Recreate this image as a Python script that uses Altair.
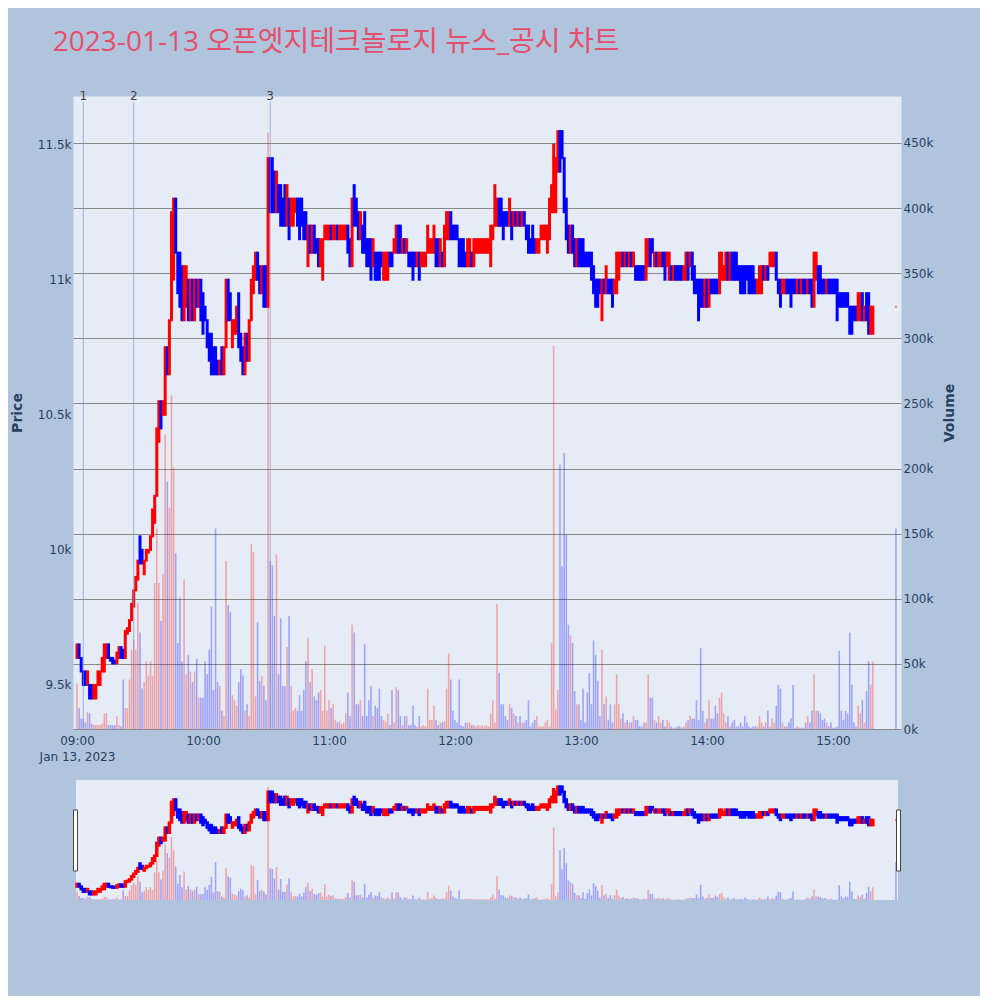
import altair as alt
import numpy as np
import pandas as pd

TITLE = "2023-01-13 오픈엣지테크놀로지 뉴스_공시 차트"

# minute index from 09:00 (0..379) plus the 15:30 closing auction (390)
minutes = list(range(380)) + [390]

opens = [
    9600, 9650, 9600, 9550, 9550, 9500, 9500, 9500, 9450, 9450,
    9500, 9500, 9550, 9550, 9600, 9650, 9600, 9600, 9590, 9580,
    9600, 9640, 9630, 9600, 9690, 9700, 9740, 9790, 9850, 9890,
    10050, 10000, 9910, 9960, 9990, 10000, 10050, 10100, 10200, 10400,
    10550, 10500, 10500, 10750, 10650, 10850, 11000, 11300, 11100, 11100,
    11050, 10850, 10900, 11000, 10850, 11000, 10850, 11000, 10900, 11000,
    10950, 10900, 10850, 10800, 10800, 10750, 10750, 10700, 10650, 10750,
    10650, 10750, 11000, 10950, 10750, 10800, 10800, 10950, 10800, 10750,
    10650, 10800, 10700, 10850, 10950, 11000, 11100, 11050, 10950, 11050,
    11050, 10900, 11450, 11450, 11400, 11250, 11350, 11350, 11300, 11350,
    11200, 11300, 11200, 11200, 11250, 11300, 11300, 11300, 11250, 11250,
    11050, 11200, 11100, 11200, 11150, 11150, 11050, 11000, 11150, 11150,
    11150, 11200, 11150, 11150, 11200, 11150, 11150, 11150, 11150, 11200,
    11150, 11050, 11350, 11300, 11250, 11150, 11200, 11250, 11150, 11150,
    11150, 11050, 11100, 11100, 11100, 11100, 11000, 11000, 11000, 11100,
    11100, 11100, 11100, 11200, 11200, 11100, 11150, 11100, 11100, 11100,
    11100, 11100, 11050, 11100, 11050, 11050, 11050, 11100, 11100, 11100,
    11100, 11150, 11150, 11050, 11100, 11050, 11150, 11150, 11250, 11200,
    11200, 11200, 11150, 11150, 11150, 11100, 11050, 11050, 11100, 11050,
    11100, 11100, 11100, 11100, 11100, 11100, 11100, 11050, 11150, 11200,
    11200, 11300, 11300, 11250, 11250, 11250, 11200, 11250, 11200, 11250,
    11200, 11250, 11200, 11250, 11200, 11200, 11150, 11200, 11150, 11100,
    11100, 11150, 11150, 11150, 11100, 11150, 11250, 11250, 11250, 11400,
    11550, 11550, 11450, 11300, 11200, 11100, 11200, 11150, 11050, 11150,
    11150, 11150, 11100, 11100, 11100, 11100, 11050, 11000, 11000, 11000,
    10850, 11000, 10950, 11000, 11000, 11000, 10950, 10950, 11000, 11050,
    11100, 11050, 11100, 11050, 11100, 11050, 11050, 11050, 11050, 11050,
    11050, 11000, 11050, 11150, 11150, 11050, 11100, 11050, 11050, 11100,
    11100, 11050, 11000, 11050, 11000, 11050, 11050, 11050, 11050, 11000,
    11000, 11100, 11050, 11100, 11050, 11000, 11000, 11000, 11000, 10900,
    11000, 10900, 11000, 11000, 11000, 11000, 10950, 11000, 11000, 11000,
    11100, 11000, 11100, 11100, 11100, 11050, 11050, 11050, 11050, 11050,
    11050, 11050, 11050, 11000, 10950, 10950, 10950, 11050, 11000, 11050,
    11050, 11050, 11050, 11100, 11000, 11000, 10950, 10950, 11000, 11000,
    11000, 11000, 11000, 10950, 11000, 10950, 11000, 11000, 10950, 11000,
    11000, 10900, 11000, 11050, 11050, 11000, 11000, 10950, 11000, 11000,
    11000, 11000, 11000, 10950, 10950, 10950, 10950, 10950, 10900, 10900,
    10900, 10900, 10850, 10850, 10950, 10850, 10950, 10950, 10800, 10800,
    10900,
]

closes = [
    9650, 9600, 9550, 9500, 9500, 9550, 9450, 9450, 9500, 9500,
    9550, 9550, 9600, 9650, 9650, 9600, 9590, 9580, 9580, 9620,
    9640, 9600, 9600, 9700, 9710, 9740, 9800, 9850, 9900, 9960,
    9950, 9950, 9960, 10000, 10000, 10050, 10150, 10200, 10450, 10550,
    10450, 10550, 10750, 10650, 10850, 11250, 11300, 11100, 10950, 10900,
    10850, 11050, 11050, 10850, 11000, 10850, 11000, 10900, 11000, 10850,
    10800, 10850, 10750, 10700, 10650, 10650, 10650, 10650, 10700, 10650,
    10750, 11000, 10850, 10850, 10850, 10850, 10900, 10750, 10700, 10650,
    10800, 10700, 10850, 11000, 11050, 11100, 11000, 10950, 11050, 10900,
    10900, 11450, 11250, 11250, 11250, 11400, 11250, 11200, 11200, 11200,
    11350, 11150, 11300, 11300, 11300, 11200, 11150, 11200, 11150, 11150,
    11200, 11100, 11200, 11100, 11100, 11050, 11150, 11150, 11200, 11200,
    11200, 11150, 11200, 11200, 11150, 11200, 11200, 11200, 11200, 11100,
    11050, 11300, 11200, 11200, 11150, 11250, 11100, 11100, 11050, 11050,
    11000, 11150, 11000, 11000, 11000, 11050, 11100, 11100, 11100, 11050,
    11050, 11150, 11200, 11100, 11100, 11150, 11100, 11150, 11050, 11050,
    11000, 11050, 11100, 11000, 11100, 11100, 11100, 11200, 11150, 11150,
    11200, 11050, 11050, 11150, 11050, 11200, 11250, 11250, 11150, 11150,
    11150, 11150, 11050, 11050, 11050, 11050, 11150, 11150, 11050, 11150,
    11150, 11150, 11150, 11150, 11150, 11150, 11150, 11200, 11200, 11350,
    11300, 11200, 11200, 11150, 11200, 11200, 11300, 11150, 11250, 11200,
    11250, 11200, 11250, 11200, 11150, 11100, 11100, 11100, 11100, 11150,
    11150, 11200, 11200, 11200, 11200, 11300, 11350, 11500, 11450, 11550,
    11400, 11450, 11250, 11150, 11100, 11200, 11100, 11050, 11150, 11050,
    11050, 11050, 11050, 11050, 11050, 11000, 10950, 10900, 10900, 10950,
    11000, 10950, 11050, 10950, 10950, 10900, 11000, 11100, 11100, 11100,
    11050, 11100, 11050, 11100, 11050, 11100, 11000, 11000, 11000, 11000,
    11000, 11150, 11150, 11050, 11100, 11100, 11050, 11100, 11100, 11050,
    11000, 11100, 11100, 11000, 11050, 11000, 11000, 11000, 11000, 11050,
    11100, 11000, 11100, 11000, 10950, 10950, 10850, 10900, 10900, 11000,
    10900, 11000, 10950, 10950, 10950, 10950, 11100, 11100, 11050, 11100,
    11000, 11100, 11000, 11000, 11000, 11000, 10950, 10950, 10950, 11000,
    10950, 10950, 10950, 10950, 11000, 11050, 11050, 11000, 11050, 11000,
    11100, 11100, 11100, 11000, 10950, 10900, 11000, 11000, 10950, 10950,
    10900, 10950, 10950, 11000, 10950, 11000, 10950, 10950, 11000, 10950,
    10900, 11100, 11100, 10950, 10950, 10950, 10950, 11000, 10950, 10950,
    10950, 10950, 10850, 10900, 10900, 10900, 10900, 10900, 10800, 10800,
    10850, 10850, 10950, 10950, 10850, 10900, 10850, 10800, 10900, 10900,
    10900,
]

volumes_k = [
    35, 16, 8, 8, 5, 13, 12, 4, 3, 3,
    3, 3, 4, 12, 12, 3, 3, 3, 3, 10,
    3, 2, 38, 16, 16, 38, 61, 69, 61, 97,
    74, 31, 36, 52, 41, 52, 41, 112, 154, 112,
    83, 119, 226, 190, 170, 256, 201, 135, 66, 101,
    52, 115, 42, 57, 44, 36, 44, 54, 24, 24,
    24, 52, 42, 61, 94, 30, 154, 36, 33, 14,
    10, 129, 95, 90, 26, 22, 18, 36, 46, 41,
    14, 19, 10, 142, 136, 25, 82, 37, 41, 33,
    22, 458, 129, 126, 87, 134, 42, 85, 33, 33,
    63, 87, 33, 14, 16, 14, 26, 14, 30, 52,
    70, 36, 46, 25, 22, 28, 30, 14, 64, 14,
    22, 16, 19, 7, 5, 6, 4, 5, 12, 28,
    10, 80, 74, 19, 19, 22, 10, 65, 10, 22,
    33, 10, 18, 16, 31, 10, 7, 5, 12, 3,
    30, 5, 32, 30, 10, 3, 10, 10, 3, 3,
    18, 3, 2, 10, 2, 3, 2, 31, 7, 7,
    18, 7, 3, 5, 5, 6, 31, 58, 38, 14,
    7, 5, 38, 3, 2, 5, 5, 5, 3, 3,
    2, 3, 2, 3, 2, 3, 2, 12, 22, 5,
    96, 43, 19, 19, 10, 7, 19, 16, 12, 10,
    5, 10, 5, 5, 7, 22, 2, 5, 7, 10,
    2, 2, 2, 5, 7, 2, 66, 294, 15, 30,
    203, 125, 212, 149, 80, 72, 66, 29, 19, 19,
    7, 31, 5, 28, 43, 19, 68, 57, 37, 10,
    61, 19, 25, 7, 19, 5, 19, 42, 19, 8,
    12, 5, 7, 5, 5, 10, 7, 7, 2, 2,
    5, 5, 42, 24, 24, 7, 5, 10, 5, 7,
    2, 7, 5, 2, 1, 1, 2, 2, 1, 2,
    5, 7, 10, 8, 8, 22, 7, 62, 14, 5,
    8, 22, 8, 8, 18, 12, 24, 28, 12, 5,
    10, 2, 5, 7, 2, 2, 5, 2, 10, 5,
    2, 1, 2, 2, 2, 10, 5, 2, 5, 14,
    2, 8, 5, 18, 34, 31, 5, 2, 2, 5,
    8, 34, 1, 2, 1, 1, 1, 5, 10, 5,
    14, 42, 14, 14, 12, 7, 8, 5, 2, 5,
    1, 1, 2, 60, 14, 7, 14, 12, 74, 34,
    5, 2, 18, 12, 22, 5, 29, 52, 34, 52,
    154,
]

event_minutes = [3, 27, 92]
event_labels = ["1", "2", "3"]
price_ticks = [9500, 10000, 10500, 11000, 11500]
volume_ticks = [0, 50000, 100000, 150000, 200000, 250000, 300000, 350000, 400000, 450000]
hour_ticks = [0, 60, 120, 180, 240, 300, 360]

df = pd.DataFrame({
    "m": minutes,
    "open": opens,
    "close": closes,
    "volume": [v * 1000 for v in volumes_k],
})
df["dir"] = np.where(df["close"] >= df["open"], "up", "down")
df["vdir"] = df["dir"]
df.loc[df.index[-1], "vdir"] = "down"
ev = pd.DataFrame({"m": event_minutes, "label": event_labels})
one = pd.DataFrame({"k": [0]})

W, H, SH = 828, 633, 120
X_DOMAIN = [-1.9, 392.4]
P_DOMAIN = [9337, 11680]
V_DOMAIN = [0, 486000]
FONT = "DejaVu Sans"
col_scale = alt.Scale(domain=["up", "down"], range=["#ff0000", "#0000ff"])

x_label = ("datum.value == 0 ? ['09:00', 'Jan 13, 2023'] : "
           "(9 + datum.value / 60 < 10 ? '0' : '') + (9 + datum.value / 60) + ':00'")
x_axis = alt.Axis(values=hour_ticks, labelExpr=x_label, grid=False, title=None,
                  labelPadding=6, labelLineHeight=16)


def xenc(axis):
    return alt.X("m:Q", scale=alt.Scale(domain=X_DOMAIN, nice=False, zero=False, padding=0),
                 axis=axis)


vscale = alt.Scale(domain=V_DOMAIN, nice=False, zero=True, padding=0)
pscale = alt.Scale(domain=P_DOMAIN, nice=False, zero=False, padding=0)

vol = alt.Chart(df).mark_bar(width=1.6, opacity=0.3).encode(
    x=xenc(x_axis),
    y=alt.Y("volume:Q", scale=vscale,
            axis=alt.Axis(orient="right", values=volume_ticks, format="~s", title="Volume",
                          titleAngle=270, titlePadding=24, labelPadding=2,
                          gridColor="#8a8a8a", gridWidth=1)),
    color=alt.Color("vdir:N", scale=col_scale, legend=None),
)
candles = alt.Chart(df).mark_bar(width=1, strokeWidth=2).encode(
    x=xenc(x_axis),
    y=alt.Y("open:Q", scale=pscale,
            axis=alt.Axis(orient="left", values=price_ticks, format="~s", title="Price",
                          titlePadding=13, labelPadding=2, gridColor="#ffffff", gridWidth=1)),
    y2="close:Q",
    color=alt.Color("dir:N", scale=col_scale, legend=None),
    stroke=alt.Stroke("dir:N", scale=col_scale, legend=None),
)
rules = alt.Chart(ev).mark_rule(color="#7f96dc", strokeWidth=1, opacity=0.7).encode(
    x=xenc(x_axis), y=alt.value(6), y2=alt.value(H)
)
texts = alt.Chart(ev).mark_text(fontSize=12, color="#444444", baseline="middle",
                                font=FONT).encode(
    x=xenc(x_axis), y=alt.value(0), text="label:N"
)
main = alt.layer(vol, candles, rules, texts).resolve_scale(y="independent").properties(
    width=W, height=H
)

bg = alt.Chart(one).mark_rect(color="#E5ECF6").encode(
    x=alt.value(3), x2=alt.value(W - 3), y=alt.value(0), y2=alt.value(SH)
)
svol = alt.Chart(df).mark_bar(width=1.6, opacity=0.3).encode(
    x=xenc(None),
    y=alt.Y("volume:Q", scale=vscale, axis=None),
    color=alt.Color("vdir:N", scale=col_scale, legend=None),
)
scand = alt.Chart(df).mark_bar(width=1, strokeWidth=2.5).encode(
    x=xenc(None),
    y=alt.Y("open:Q", scale=pscale, axis=None),
    y2="close:Q",
    color=alt.Color("dir:N", scale=col_scale, legend=None),
    stroke=alt.Stroke("dir:N", scale=col_scale, legend=None),
)
h_left = alt.Chart(one).mark_rect(fill="white", stroke="#444444", strokeWidth=1).encode(
    x=alt.value(0.5), x2=alt.value(4.5), y=alt.value(30), y2=alt.value(91)
)
h_right = alt.Chart(one).mark_rect(fill="white", stroke="#444444", strokeWidth=1).encode(
    x=alt.value(W - 4.5), x2=alt.value(W - 0.5), y=alt.value(30), y2=alt.value(91)
)
slider = alt.layer(bg, svol, scand, h_left, h_right).resolve_scale(y="independent").properties(
    width=W, height=SH, view=alt.ViewBackground(fill="transparent", stroke="transparent")
)

chart = alt.vconcat(main, slider, spacing=51, bounds="flush").properties(
    title=alt.TitleParams(TITLE, anchor="start", fontSize=28, font="Open Sans, Noto Sans CJK KR",
                          color="#E4506B", fontWeight="normal", dx=43, offset=33),
    background="#B0C4DE",
    padding={"left": 1, "top": 20, "right": 22, "bottom": 95},
).configure_view(fill="#E5ECF6", stroke="transparent").configure_axis(
    labelFont=FONT, labelFontSize=12, labelColor="#2a3f5f",
    titleFont=FONT, titleFontSize=14, titleFontWeight="bold", titleColor="#2a3f5f",
    domain=False, ticks=False,
)

chart.save("out.html", embed_options={"renderer": "svg", "actions": False})
